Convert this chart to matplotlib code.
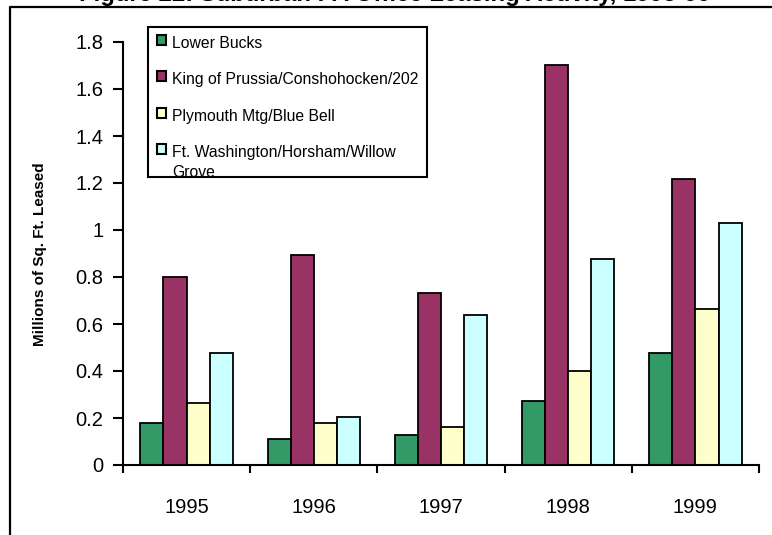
import numpy as np
import matplotlib
matplotlib.use("Agg")
import matplotlib.pyplot as plt
from matplotlib.lines import Line2D
from matplotlib.patches import Rectangle

plt.rcParams['font.family'] = ['Liberation Sans', 'DejaVu Sans']

# 数据
years = ['1995', '1996', '1997', '1998', '1999']
regions = ['Lower Bucks', 'King of Prussia/Conshohocken/202',
           'Plymouth Mtg/Blue Bell', 'Ft. Washington/Horsham/Willow\nGrove']
lower_bucks = [0.18, 0.112, 0.129, 0.274, 0.478]
king_of_prussia = [0.80, 0.893, 0.733, 1.704, 1.218]
plymouth = [0.265, 0.18, 0.163, 0.401, 0.665]
ft_washington = [0.478, 0.206, 0.639, 0.877, 1.03]
colors = ['#339966', '#993366', '#FFFFCC', '#CCFFFF']
yticks = [0, 0.2, 0.4, 0.6, 0.8, 1.0, 1.2, 1.4, 1.6, 1.8]

W, H = 772, 535
fig = plt.figure(figsize=(W / 100, H / 100), dpi=100)
ax = fig.add_axes([123 / W, 1 - 465 / H, (759 - 123) / W, (465 - 42) / H])

series = [lower_bucks, king_of_prussia, plymouth, ft_washington]
x = np.arange(len(years))
w = 1 / 5.5
for i, vals in enumerate(series):
    ax.bar(x + (i - 1.5) * w, vals, width=w, color=colors[i],
           edgecolor='black', linewidth=1.3, zorder=3)

ax.set_xlim(-0.5, 4.5)
ax.set_ylim(0, 1.8)
ax.set_yticks(yticks)
ax.set_yticklabels(['%g' % v for v in yticks], fontsize=14.5)
ax.set_xticks(x)
ax.set_xticklabels(years, fontsize=14.5)
ax.set_xticks(np.arange(-0.5, 5, 1), minor=True)
ax.tick_params(axis='x', which='major', length=0, pad=24)
ax.tick_params(axis='x', which='minor', length=6, width=1.5, direction='out')
ax.tick_params(axis='y', length=7, width=1.5, direction='out', pad=7)
for s in ['top', 'right']:
    ax.spines[s].set_visible(False)
for s in ['left', 'bottom']:
    ax.spines[s].set_linewidth(1.5)
ax.spines['bottom'].set_zorder(4)

ax.set_ylabel('Millions of Sq. Ft. Leased', fontsize=11, fontweight='bold')
ax.yaxis.set_label_coords(47 / W, 1 - 254 / H, transform=fig.transFigure)

# 外框
fig.add_artist(Line2D([10 / W, 10 / W, 1.0], [0.0, 1 - 7 / H, 1 - 7 / H],
                      transform=fig.transFigure, color='black', linewidth=1.6))

# 标题（上半部分被截掉）
fig.text(395 / W, 1 - 1.5 / H, 'Figure 22: Suburban PA Office Leasing Activity, 1995-99',
         ha='center', va='baseline', fontsize=17.2, fontweight='bold')

# 图例
lx0, lx1, ly0, ly1 = 148, 427, 27, 177
box = Rectangle((lx0 / W, 1 - ly1 / H), (lx1 - lx0) / W, (ly1 - ly0) / H,
                transform=fig.transFigure, facecolor='white', edgecolor='black',
                linewidth=1.5, zorder=5)
fig.add_artist(box)
for i, name in enumerate(regions):
    cy = 44 + 36.3 * i
    sq = Rectangle((157 / W, 1 - (cy + 1) / H), 9 / W, 10 / H,
                   transform=fig.transFigure, facecolor=colors[i],
                   edgecolor='black', linewidth=1.5, zorder=6)
    fig.add_artist(sq)
    t = fig.text(172 / W, 1 - (cy - 8) / H, name, ha='left', va='top',
                 fontsize=11.3, linespacing=1.45, zorder=6)
    t.set_clip_path(box)

fig.savefig('out.png', dpi=100)
